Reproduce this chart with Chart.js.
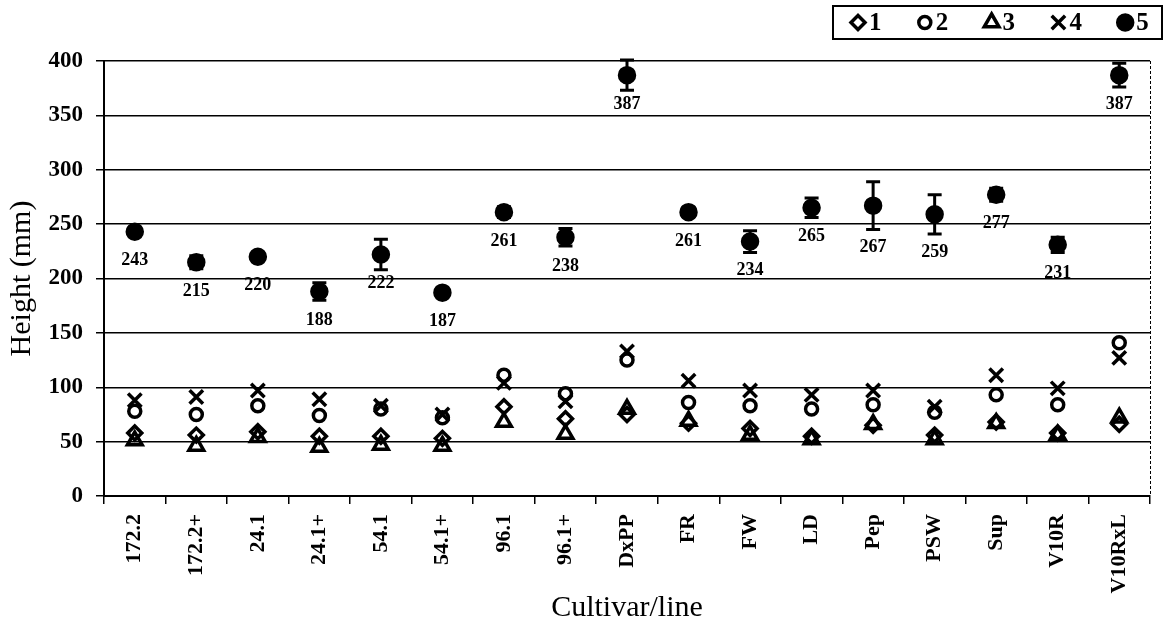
<!DOCTYPE html>
<html>
<head>
<meta charset="utf-8">
<script src="https://cdn.jsdelivr.net/npm/chart.js@4/dist/chart.umd.min.js"></script>
<style>
  html, body { margin: 0; padding: 0; background: #fff; }
</style>
</head>
<body>
<canvas id="c" width="1167" height="626"></canvas>
<script>
// plant heights per cultivar/line, five measurement groups
const cultivars = ['172.2', '172.2+', '24.1', '24.1+', '54.1', '54.1+', '96.1', '96.1+', 'DxPP',
  'FR', 'FW', 'LD', 'Pep', 'PSW', 'Sup', 'V10R', 'V10RxL'];
const group1 = [58, 56, 59, 55, 55, 53, 82, 71, 75, 67, 62, 55, 65, 56, 68, 58, 66];
const group2 = [78, 75, 83, 74, 80, 72, 111, 94, 125, 86, 83, 80, 84, 77, 93, 84, 141];
const group3 = [51, 46, 54, 45, 47, 46, 68, 57, 80, 69, 56, 52, 66, 52, 67, 56, 72];
const group4 = [88, 91, 97, 89, 83, 75, 104, 87, 133, 106, 97, 93, 97, 82, 111, 99, 127];
const group5 = [243, 215, 220, 188, 222, 187, 261, 238, 387, 261, 234, 265, 267, 259, 277, 231, 387];
const group5Err = [4, 6, 3, 8, 14, 2, 5, 8, 14, 4, 10, 9, 22, 18, 6, 7, 11];
const legendLabels = ['1', '2', '3', '4', '5'];

const INK = '#000';
const SERIF = '"Liberation Serif", "Times New Roman", serif';

const markers = [
  { pointStyle: 'rectRot', radius: 7, filled: false },
  { pointStyle: 'circle', radius: 6, filled: false },
  { pointStyle: 'triangle', radius: 8.5, filled: false },
  { pointStyle: 'crossRot', radius: 9.5, filled: false },
  { pointStyle: 'circle', radius: 7.5, filled: true }
];

function series(label, data, m) {
  return {
    label: label,
    data: data,
    showLine: false,
    pointStyle: m.pointStyle,
    pointRadius: m.radius,
    pointHoverRadius: m.radius,
    pointBorderWidth: 3.5,
    pointBorderColor: INK,
    pointBackgroundColor: m.filled ? INK : 'rgba(0,0,0,0)',
    borderColor: INK,
    backgroundColor: m.filled ? INK : 'rgba(0,0,0,0)'
  };
}

// error bars and value labels for group 5
const errorBars = {
  id: 'errorBars',
  afterDatasetsDraw(chart) {
    const meta = chart.getDatasetMeta(4);
    const y = chart.scales.y;
    const c = chart.ctx;
    c.save();
    c.strokeStyle = INK;
    c.fillStyle = INK;
    c.lineWidth = 3;
    c.font = 'bold 18px ' + SERIF;
    c.textAlign = 'center';
    c.textBaseline = 'middle';
    meta.data.forEach((pt, i) => {
      const top = y.getPixelForValue(group5[i] + group5Err[i]);
      const bot = y.getPixelForValue(group5[i] - group5Err[i]);
      c.beginPath();
      c.moveTo(pt.x, top); c.lineTo(pt.x, bot);
      c.moveTo(pt.x - 7, top); c.lineTo(pt.x + 7, top);
      c.moveTo(pt.x - 7, bot); c.lineTo(pt.x + 7, bot);
      c.stroke();
      const errPx = bot - pt.y;
      const off = errPx > 18 ? errPx + 18 : 29;
      c.fillText(String(group5[i]), pt.x, pt.y + off);
    });
    c.restore();
  }
};

// boxed legend in the top right corner, plus dotted right frame
const boxLegend = {
  id: 'boxLegend',
  afterDraw(chart) {
    const c = chart.ctx;
    const area = chart.chartArea;
    c.save();
    c.strokeStyle = INK;
    c.lineWidth = 1;
    c.setLineDash([3, 2]);
    c.beginPath();
    c.moveTo(area.right + 0.5, area.top);
    c.lineTo(area.right + 0.5, area.bottom);
    c.stroke();
    c.setLineDash([]);

    const boxL = 833, boxT = 6, boxW = 329, boxH = 33;
    c.lineWidth = 2;
    c.strokeRect(boxL, boxT, boxW, boxH);
    const cy = boxT + boxH / 2;
    c.font = 'bold 25px ' + SERIF;
    c.textAlign = 'left';
    c.textBaseline = 'middle';
    legendLabels.forEach((lab, i) => {
      const m = markers[i];
      const x = 858 + i * 66.8;
      c.fillStyle = m.filled ? INK : 'rgba(0,0,0,0)';
      c.strokeStyle = INK;
      c.lineWidth = 3.5;
      Chart.helpers.drawPoint(c, {
        pointStyle: m.pointStyle,
        radius: m.radius,
        rotation: 0,
        borderWidth: 3.5
      }, x, cy);
      c.fillStyle = INK;
      c.fillText(lab, x + 11, cy + 1);
    });
    c.restore();
  }
};

new Chart(document.getElementById('c'), {
  type: 'line',
  data: {
    labels: cultivars,
    datasets: [
      series(legendLabels[0], group1, markers[0]),
      series(legendLabels[1], group2, markers[1]),
      series(legendLabels[2], group3, markers[2]),
      series(legendLabels[3], group4, markers[3]),
      series(legendLabels[4], group5, markers[4])
    ]
  },
  options: {
    responsive: false,
    devicePixelRatio: 1,
    animation: false,
    events: [],
    layout: { padding: { top: 61, right: 17, left: 0, bottom: 0 } },
    plugins: {
      legend: { display: false },
      tooltip: { enabled: false }
    },
    scales: {
      x: {
        type: 'category',
        offset: true,
        afterFit(scale) { scale.height = 130; },
        grid: {
          offset: true,
          drawOnChartArea: false,
          drawTicks: true,
          tickLength: 8,
          color: INK,
          lineWidth: 1.5
        },
        border: { color: INK, width: 2 },
        ticks: {
          color: INK,
          autoSkip: false,
          maxRotation: 90,
          minRotation: 90,
          padding: 10,
          font: { family: SERIF, size: 22, weight: 'bold' }
        },
        title: {
          display: true,
          text: 'Cultivar/line',
          color: INK,
          font: { family: SERIF, size: 30 },
          padding: { top: 0, bottom: 0 }
        }
      },
      y: {
        min: 0,
        max: 400,
        afterFit(scale) { scale.width = 104; },
        grid: {
          color: INK,
          lineWidth: 1.5,
          tickLength: 8
        },
        border: { color: INK, width: 2 },
        ticks: {
          stepSize: 50,
          color: INK,
          padding: 13,
          font: { family: SERIF, size: 23, weight: 'bold' }
        },
        title: {
          display: true,
          text: 'Height (mm)',
          color: INK,
          font: { family: SERIF, size: 30 },
          padding: { top: 4, bottom: 0 }
        }
      }
    }
  },
  plugins: [errorBars, boxLegend]
});
</script>
</body>
</html>
